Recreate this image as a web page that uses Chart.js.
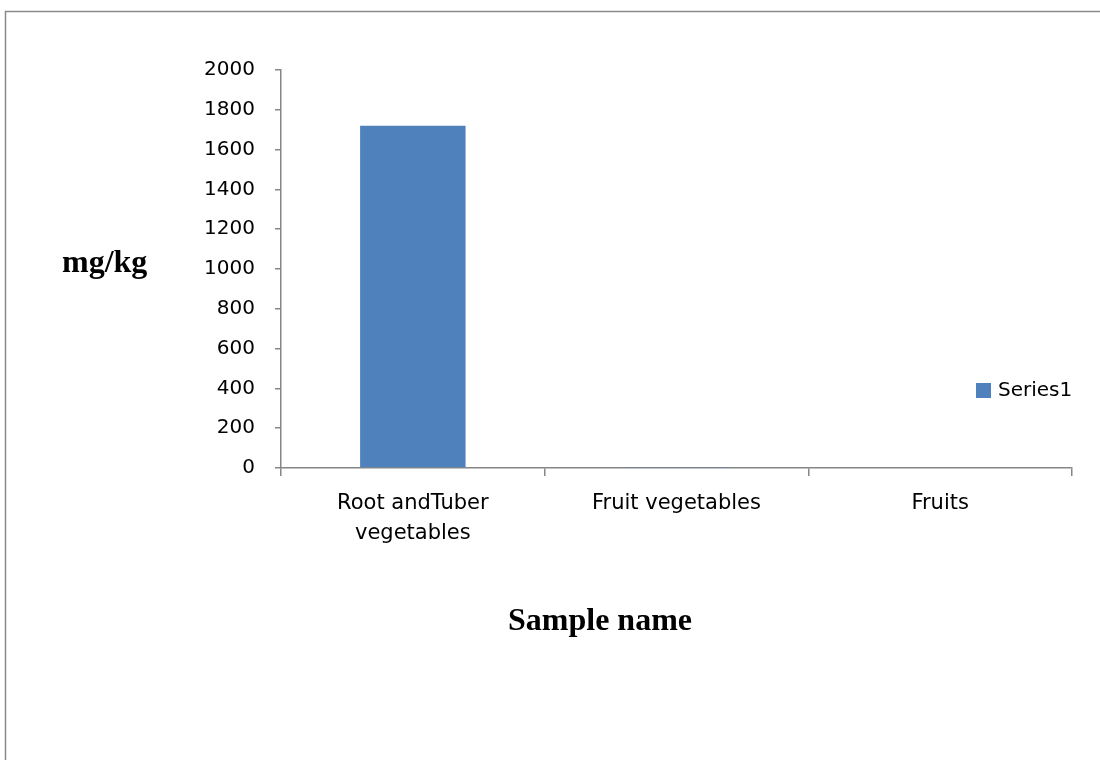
<!DOCTYPE html>
<html>
<head>
<meta charset="utf-8">
<title>mg/kg by sample group</title>
<script src="https://cdn.jsdelivr.net/npm/chart.js@4/dist/chart.umd.min.js"></script>
<style>
  html, body { margin: 0; padding: 0; background: #ffffff; }
  #wrap { width: 1100px; height: 760px; position: relative; }
</style>
</head>
<body>
<div id="wrap"><canvas id="chart" width="1100" height="760"></canvas></div>
<script>
// Sample groups and measured concentrations (mg/kg)
const categories = [['Root andTuber', 'vegetables'], 'Fruit vegetables', 'Fruits'];
const series1 = [1720, 5, 4];
const seriesName = 'Series1';
const yTicks = [0, 200, 400, 600, 800, 1000, 1200, 1400, 1600, 1800, 2000];
const yTitle = 'mg/kg';
const xTitle = 'Sample name';

const barColor = '#4F81BD';
const axisColor = '#868686';
const sansFont = '"DejaVu Sans", "Open Sans", sans-serif';
const serifFont = '"Liberation Serif", "DejaVu Serif", serif';

// Frame, axis titles and the side legend
const decorations = {
  id: 'decorations',
  afterDraw(chart) {
    const ctx = chart.ctx;
    ctx.save();
    // outer frame (open to the right and bottom)
    ctx.strokeStyle = '#8a8a8a';
    ctx.lineWidth = 1.5;
    ctx.beginPath();
    ctx.moveTo(5.5, 760);
    ctx.lineTo(5.5, 11.5);
    ctx.lineTo(1100, 11.5);
    ctx.stroke();

    // axis titles
    ctx.fillStyle = '#000000';
    ctx.font = 'bold 32px ' + serifFont;
    ctx.textBaseline = 'alphabetic';
    ctx.textAlign = 'left';
    ctx.fillText(yTitle, 62, 272);
    ctx.textAlign = 'center';
    ctx.fillText(xTitle, 600, 630);

    // legend
    const ds = chart.data.datasets[0];
    ctx.fillStyle = ds.backgroundColor;
    ctx.fillRect(976, 383, 15, 15);
    ctx.fillStyle = '#000000';
    ctx.font = '20px ' + sansFont;
    ctx.textAlign = 'left';
    ctx.textBaseline = 'middle';
    ctx.fillText(ds.label, 998, 391);
    ctx.restore();
  }
};

new Chart(document.getElementById('chart'), {
  type: 'bar',
  data: {
    labels: categories,
    datasets: [{
      label: seriesName,
      data: series1,
      backgroundColor: barColor,
      borderWidth: 0,
      barPercentage: 1.0,
      categoryPercentage: 0.4
    }]
  },
  options: {
    responsive: false,
    animation: false,
    devicePixelRatio: 1,
    layout: { padding: { left: 0, top: 70, right: 28, bottom: 0 } },
    plugins: {
      legend: { display: false },
      tooltip: { enabled: false },
      title: { display: false }
    },
    scales: {
      x: {
        offset: true,
        grid: {
          display: true,
          offset: true,
          drawOnChartArea: false,
          drawTicks: true,
          tickLength: 8,
          color: axisColor,
          lineWidth: 1.5
        },
        border: { display: true, color: axisColor, width: 1.5 },
        ticks: {
          color: '#000000',
          font: { family: sansFont, size: 21, lineHeight: 1.45 },
          padding: 12,
          maxRotation: 0,
          autoSkip: false
        },
        afterFit(scale) { scale.height = 292; }
      },
      y: {
        min: 0,
        max: 2000,
        afterBuildTicks(scale) { scale.ticks = yTicks.map(v => ({ value: v })); },
        grid: {
          display: true,
          drawOnChartArea: false,
          drawTicks: true,
          tickLength: 6,
          color: axisColor,
          lineWidth: 1.5
        },
        border: { display: true, color: axisColor, width: 1.5 },
        ticks: {
          color: '#000000',
          font: { family: sansFont, size: 20 },
          padding: 20,
          callback: (value) => String(value)
        },
        afterFit(scale) { scale.width = 281; }
      }
    }
  },
  plugins: [decorations]
});
</script>
</body>
</html>
